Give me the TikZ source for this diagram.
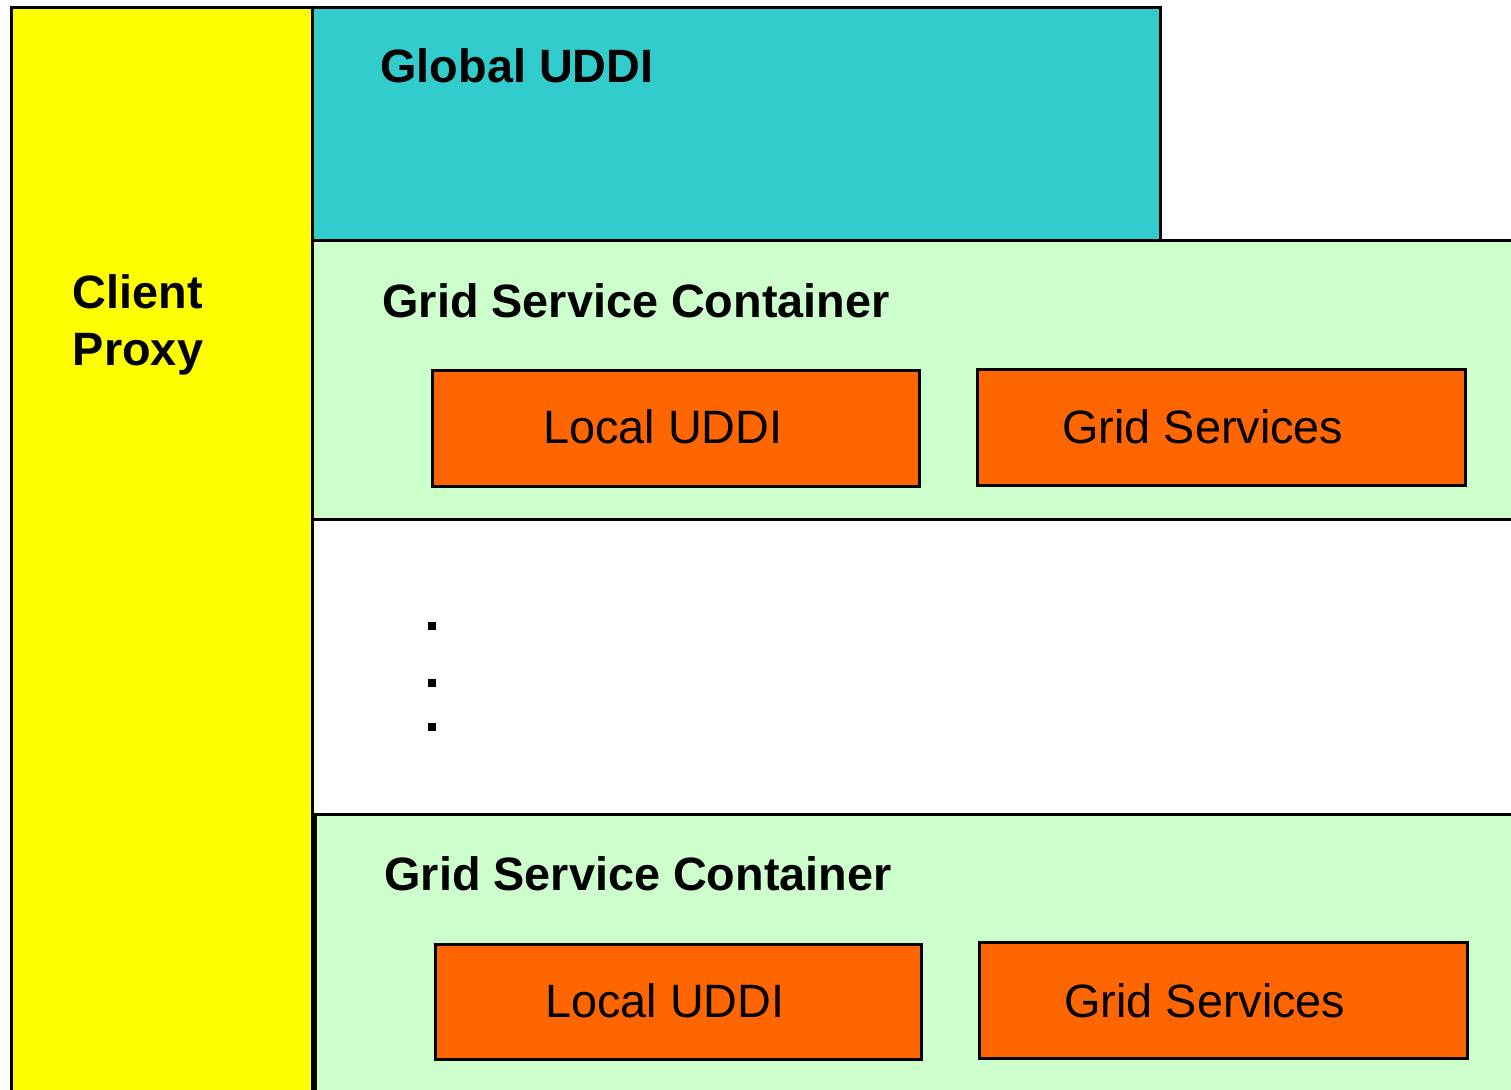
\documentclass[tikz,border=0pt]{standalone}
\usepackage{fontspec}
\setmainfont{Liberation Sans}
\definecolor{yellowbox}{HTML}{FFFF00}
\definecolor{cyanbox}{HTML}{33CCCC}
\definecolor{greenbox}{HTML}{CCFFCC}
\definecolor{orangebox}{HTML}{FF6600}
\begin{document}
\begin{tikzpicture}[x=0.5pt,y=-0.5pt,
  panel/.style={draw=black,line width=1.5pt},
  title/.style={font=\fontsize{23.4pt}{28pt}\selectfont\bfseries,anchor=base west,inner sep=0pt},
  orangebox/.style={panel,fill=orangebox},
  boxlabel/.style={font=\fontsize{23.4pt}{28pt}\selectfont,inner sep=0pt}]
\useasboundingbox (0,0) rectangle (1511,1089);
\clip (0,0) rectangle (1511,1089);
% panels
\draw[panel,fill=yellowbox] (11,7) rectangle (312,1120);
\draw[panel,fill=cyanbox] (312,7) rectangle (1160,240);
\draw[panel,fill=greenbox] (312,240) rectangle (1540,519);
\draw[panel,fill=greenbox] (315,814) rectangle (1540,1120);
% orange boxes
\draw[orangebox] (432,370) rectangle (919,486);
\draw[orangebox] (977,369) rectangle (1465,485);
\draw[orangebox] (435,944) rectangle (921,1059);
\draw[orangebox] (979,942) rectangle (1467,1058);
% labels
\node[title] (gu) at (380,82) {Global UDDI};
\node[title] (gsc1) at (382,317) {Grid Service Container};
\node[title] (gsc2) at (384,890) {Grid Service Container};
\node[font=\fontsize{23.4pt}{28.5pt}\selectfont\bfseries,align=center,inner sep=0pt,anchor=base] (cp) at (138,365) {Client\\Proxy};
\node[boxlabel] (lu1) at (663,427) {Local UDDI};
\node[boxlabel] (gs1) at (1203,427) {Grid Services};
\node[boxlabel] (lu2) at (665,1001) {Local UDDI};
\node[boxlabel] (gs2) at (1205,1001) {Grid Services};
% dots
\fill (428,622) rectangle (436,630);
\fill (428,679) rectangle (436,687);
\fill (428,723) rectangle (436,731);
\end{tikzpicture}
\end{document}
